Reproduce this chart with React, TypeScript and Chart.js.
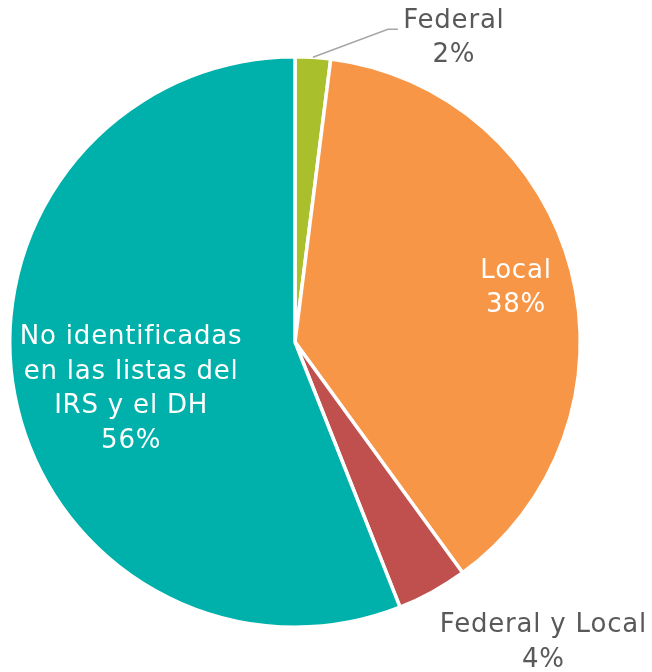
import React, { useEffect, useRef } from "react";
import { Chart, registerables } from "chart.js";

Chart.register(...registerables);

const categories = ["Federal", "Local", "Federal y Local", "No identificadas en las listas del IRS y el DH"];
const labelLines = [["Federal", "2%"], ["Local", "38%"], ["Federal y Local", "4%"], ["No identificadas", "en las listas del", "IRS y el DH", "56%"]];
const values = [2, 38, 4, 56];
const colors = ["#A9BF2B", "#F79646", "#C0504D", "#00B0AA"];

const FONT = "26px 'DejaVu Sans'";
const LINE_H = 34.5;
const TEXT_SHIFT = 3;

const labelPlugin = {
  id: "pieLabels",
  afterDatasetsDraw(chart: any) {
    const ctx = chart.ctx;
    const meta = chart.getDatasetMeta(0);
    ctx.save();
    ctx.font = FONT;
    try { (ctx as any).letterSpacing = "0.8px"; } catch (e) {}
    ctx.textAlign = "center";
    ctx.textBaseline = "middle";
    meta.data.forEach((arc: any, i: number) => {
      const { x, y, startAngle, endAngle, outerRadius } = arc.getProps(["x", "y", "startAngle", "endAngle", "outerRadius"], true);
      const mid = (startAngle + endAngle) / 2;
      const lines = labelLines[i];
      let cx = 0, cy = 0, color = "#ffffff";
      if (i === 0) {
        const ex = x + Math.cos(mid) * outerRadius;
        const ey = y + Math.sin(mid) * outerRadius;
        const kx = ex + 75;
        const ky = ey - 28;
        ctx.strokeStyle = "#A6A6A6";
        ctx.lineWidth = 1.5;
        ctx.beginPath();
        ctx.moveTo(ex, ey);
        ctx.lineTo(kx, ky);
        ctx.lineTo(kx + 10, ky);
        ctx.stroke();
        cx = kx + 66;
        cy = ky + 6;
        color = "#595959";
      } else if (i === 2) {
        const ex = x + Math.cos(mid) * outerRadius;
        const ey = y + Math.sin(mid) * outerRadius;
        cx = ex + 111;
        cy = ey + 48;
        color = "#595959";
      } else if (i === 1) {
        cx = x + Math.cos(mid) * outerRadius * 0.8;
        cy = y + Math.sin(mid) * outerRadius * 0.8;
      } else {
        const a = mid - 0.075;
        cx = x + Math.cos(a) * outerRadius * 0.595;
        cy = y + Math.sin(a) * outerRadius * 0.595;
      }
      ctx.fillStyle = color;
      const top = cy + TEXT_SHIFT - ((lines.length - 1) * LINE_H) / 2;
      lines.forEach((t, k) => ctx.fillText(t, cx, top + k * LINE_H));
    });
    ctx.restore();
  },
};

export default function App() {
  const ref = useRef<HTMLCanvasElement>(null);
  useEffect(() => {
    document.body.style.margin = "0";
    const chart = new Chart(ref.current!, {
      type: "pie",
      data: {
        labels: categories,
        datasets: [{ data: values, backgroundColor: colors, borderColor: "#ffffff", borderWidth: 3.5 }],
      },
      options: {
        animation: false,
        responsive: false,
        layout: { padding: { left: 8, right: 70, top: 55, bottom: 43 } },
        plugins: { legend: { display: false }, tooltip: { enabled: false } },
      },
      plugins: [labelPlugin],
    });
    return () => chart.destroy();
  }, []);
  return (
    <div style={{ width: 652, height: 672, background: "#fff" }}>
      <canvas ref={ref} width={652} height={672} />
    </div>
  );
}
